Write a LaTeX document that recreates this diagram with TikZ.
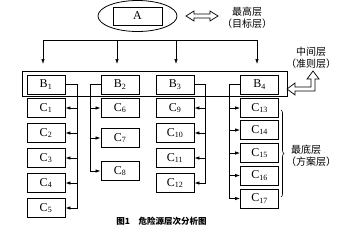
\documentclass[tikz,border=0pt]{standalone}
\usepackage{fontspec}
\setmainfont{Liberation Serif}
\newfontfamily\cjk{Noto Sans CJK SC}
\usetikzlibrary{arrows.meta,decorations.pathreplacing,shapes.geometric}
\begin{document}
\begin{tikzpicture}[x=1pt,y=-1pt,
  box/.style={draw,line width=0.9pt,minimum width=38pt,minimum height=19pt,inner sep=0pt,font=\fontsize{12}{12}\selectfont},
  conn/.style={line width=0.7pt},
  arr/.style={conn,-{Latex[length=5pt,width=3.5pt]}},
  lbl/.style={font=\cjk\fontsize{10}{10}\selectfont,inner sep=0pt},
  hollow/.style={line width=0.7pt}]
\useasboundingbox (0,0) rectangle (350,236);
% top level
\node[draw,ellipse,line width=0.8pt,minimum width=79pt,minimum height=31pt,inner sep=0pt] (E) at (137.5,16) {};
\node[box,minimum width=49pt,minimum height=18pt] (A) at (137.5,16) {A};
\draw[hollow] (186,16) -- (194,11) -- (194,14) -- (210,14) -- (210,11) -- (218,16) -- (210,21) -- (210,18) -- (194,18) -- (194,21) -- cycle;
\node[lbl] (t1) at (247,12) {最高层};
\node[lbl] (t2) at (247,24) {（目标层）};
% bus
\coordinate (bA) at (43,40);
\coordinate (bB) at (117,40);
\coordinate (bC) at (176,40);
\coordinate (bD) at (257,40);
\coordinate (dA) at (43,64);
\coordinate (dB) at (117,64);
\coordinate (dC) at (176,64);
\coordinate (dD) at (257,64);
\draw[conn] (bA) -- (bD);
\draw[arr] (bA) -- (dA);
\draw[arr] (bB) -- (dB);
\draw[arr] (bC) -- (dC);
\draw[arr] (bD) -- (dD);
% middle layer
\node[draw,line width=0.9pt,minimum width=265pt,minimum height=25pt,inner sep=0pt] (BL) at (154.5,83.5) {};
\node[box] (B1) at (46,84.5) {B\textsubscript{1}};
\node[box] (B2) at (120,84.5) {B\textsubscript{2}};
\node[box] (B3) at (175,84.5) {B\textsubscript{3}};
\node[box] (B4) at (259.5,84.5) {B\textsubscript{4}};
\node[lbl] (t3) at (311,52) {中间层};
\node[lbl] (t4) at (311,64) {（准则层）};
\draw[hollow] (287,89) -- (295,83) -- (295,87) -- (311,87) -- (311,79) -- (307,79) -- (313,71) -- (319,79) -- (315,79) -- (315,91) -- (295,91) -- (295,95) -- cycle;
% column 1
\node[box] (C1) at (46,108) {C\textsubscript{1}};
\node[box] (C2) at (46,133) {C\textsubscript{2}};
\node[box] (C3) at (46,158) {C\textsubscript{3}};
\node[box] (C4) at (46,183) {C\textsubscript{4}};
\node[box] (C5) at (46,208) {C\textsubscript{5}};
\coordinate (k1) at (77,84.5);
\draw[arr] (B1.east) -- (k1) |- (C5.east);
\foreach \n in {C1,C2,C3,C4} \draw[arr] (\n.east -| k1) -- (\n.east);
% column 2
\node[box] (C6) at (120,108) {C\textsubscript{6}};
\node[box] (C7) at (120,138) {C\textsubscript{7}};
\node[box] (C8) at (120,171) {C\textsubscript{8}};
\coordinate (k2) at (90,84.5);
\draw[arr] (B2.west) -- (k2) |- (C8.west);
\foreach \n in {C6,C7} \draw[arr] (\n.west -| k2) -- (\n.west);
% column 3
\node[box] (C9) at (175,108) {C\textsubscript{9}};
\node[box] (C10) at (175,133) {C\textsubscript{10}};
\node[box] (C11) at (175,158) {C\textsubscript{11}};
\node[box] (C12) at (175,183) {C\textsubscript{12}};
\coordinate (k3) at (205,84.5);
\draw[arr] (B3.east) -- (k3) |- (C12.east);
\foreach \n in {C9,C10,C11} \draw[arr] (\n.east -| k3) -- (\n.east);
% column 4
\node[box] (C13) at (259.5,108) {C\textsubscript{13}};
\node[box] (C14) at (259.5,130) {C\textsubscript{14}};
\node[box] (C15) at (259.5,153) {C\textsubscript{15}};
\node[box] (C16) at (259.5,175.5) {C\textsubscript{16}};
\node[box] (C17) at (259.5,198.5) {C\textsubscript{17}};
\coordinate (k4) at (229,84.5);
\draw[arr] (B4.west) -- (k4) |- (C17.west);
\foreach \n in {C13,C14,C15,C16} \draw[arr] (\n.west -| k4) -- (\n.west);
% bottom layer label
\coordinate (br1) at (281,110);
\coordinate (br2) at (281,197);
\draw[decorate,decoration={brace,amplitude=3pt},line width=0.6pt] (br1) -- (br2);
\node[lbl] (t5) at (306,150) {最底层};
\node[lbl] (t6) at (311,162) {（方案层）};
% caption
\node[font=\cjk\bfseries\fontsize{8.5}{9}\selectfont,inner sep=0pt] (cap) at (161.5,221) {图1\quad 危险源层次分析图};
\end{tikzpicture}
\end{document}
